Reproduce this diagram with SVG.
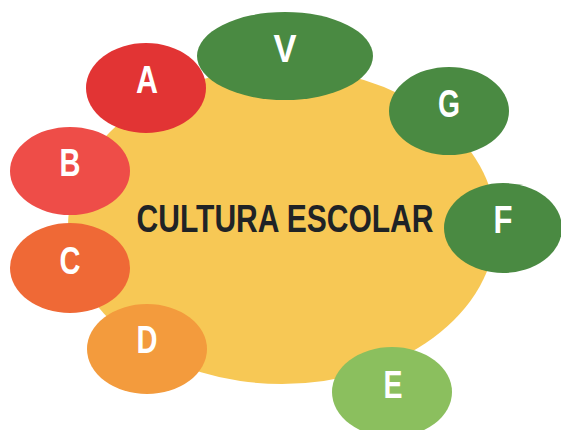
<svg xmlns="http://www.w3.org/2000/svg" width="561" height="430" viewBox="0 0 561 430">
<style>
.lbl{font-family:"Liberation Sans",Arial,sans-serif;font-weight:bold;font-size:38px;fill:#ffffff;text-anchor:middle}
.main{font-family:"Liberation Sans",Arial,sans-serif;font-weight:bold;font-size:39px;fill:#1f2326;text-anchor:middle}
.green{fill:#4a8a42}
</style>
<rect width="561" height="430" fill="#ffffff"/>
<g id="center">
<ellipse cx="282" cy="226" rx="214" ry="158" fill="#f7c855"/>
<text class="main" transform="translate(285,232) scale(0.77,1)" x="0" y="0">CULTURA ESCOLAR</text>
</g>
<g id="connectors"></g>
<g id="nodeA"><ellipse cx="146" cy="88" rx="60" ry="45" fill="#e23434"/><text class="lbl" x="147" y="93" textLength="22" lengthAdjust="spacingAndGlyphs">A</text></g>
<g id="nodeV"><ellipse cx="285" cy="56" rx="88" ry="44" class="green"/><text class="lbl" x="285" y="62" textLength="23" lengthAdjust="spacingAndGlyphs">V</text></g>
<g id="nodeG"><ellipse cx="449" cy="111" rx="60" ry="44" class="green"/><text class="lbl" x="449" y="117" textLength="22" lengthAdjust="spacingAndGlyphs">G</text></g>
<g id="nodeB"><ellipse cx="70" cy="171" rx="60" ry="44" fill="#ee4d48"/><text class="lbl" x="70" y="176" textLength="21" lengthAdjust="spacingAndGlyphs">B</text></g>
<g id="nodeF"><ellipse cx="503" cy="228" rx="59" ry="45" class="green"/><text class="lbl" x="503" y="233" textLength="19" lengthAdjust="spacingAndGlyphs">F</text></g>
<g id="nodeC"><ellipse cx="70" cy="268" rx="60" ry="45" fill="#ef6936"/><text class="lbl" x="70" y="274" textLength="21" lengthAdjust="spacingAndGlyphs">C</text></g>
<g id="nodeD"><ellipse cx="147" cy="349" rx="60" ry="45" fill="#f39b3d"/><text class="lbl" x="147" y="353" textLength="21" lengthAdjust="spacingAndGlyphs">D</text></g>
<g id="nodeE"><ellipse cx="392" cy="392" rx="60" ry="45" fill="#8bbf5e"/><text class="lbl" x="393" y="398" textLength="19" lengthAdjust="spacingAndGlyphs">E</text></g>
</svg>
